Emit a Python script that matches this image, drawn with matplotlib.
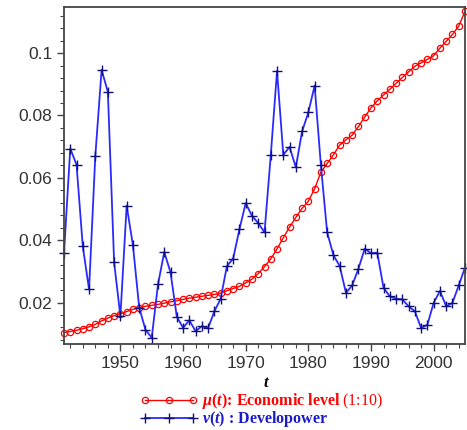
import matplotlib
matplotlib.use("Agg")
import matplotlib.pyplot as plt
from matplotlib.ticker import MultipleLocator
import numpy as np

plt.rcParams["font.family"] = ["Liberation Sans", "DejaVu Sans"]
plt.rcParams["mathtext.fontset"] = "custom"
plt.rcParams["mathtext.rm"] = "Liberation Serif"
plt.rcParams["mathtext.it"] = "Liberation Serif:italic:bold"
plt.rcParams["mathtext.bf"] = "Liberation Serif:bold"

# yearly data 1941..2005
years = np.arange(1941, 2006)

# mu(t): economic level, shown at 1:10
mu = [0.0103, 0.0107, 0.0111, 0.0116, 0.0122, 0.0130, 0.0141, 0.0150, 0.0158, 0.0164,
      0.0171, 0.0178, 0.0184, 0.0188, 0.0191, 0.0194, 0.0198, 0.0202, 0.0206, 0.0210,
      0.0214, 0.0217, 0.0220, 0.0223, 0.0226, 0.0230, 0.0238, 0.0245, 0.0252, 0.0263,
      0.0275, 0.0293, 0.0315, 0.0340, 0.0372, 0.0408, 0.0442, 0.0473, 0.0502, 0.0525,
      0.0565, 0.0618, 0.0646, 0.0674, 0.0705, 0.0722, 0.0737, 0.0765, 0.0795, 0.0825,
      0.0847, 0.0866, 0.0884, 0.0903, 0.0922, 0.0940, 0.0958, 0.0969, 0.0980, 0.0992,
      0.1016, 0.1038, 0.1060, 0.1087, 0.1134]

# nu(t): developower
nu = [0.0358, 0.0694, 0.0642, 0.0380, 0.0242, 0.0671, 0.0946, 0.0876, 0.0329, 0.0156,
      0.0511, 0.0384, 0.0184, 0.0113, 0.0087, 0.0258, 0.0362, 0.0297, 0.0155, 0.0119,
      0.0143, 0.0108, 0.0124, 0.0118, 0.0172, 0.0212, 0.0317, 0.0341, 0.0435, 0.0519,
      0.0478, 0.0455, 0.0425, 0.0672, 0.0943, 0.0674, 0.0699, 0.0634, 0.0749, 0.0810,
      0.0896, 0.0640, 0.0425, 0.0352, 0.0317, 0.0231, 0.0255, 0.0309, 0.0373, 0.0358,
      0.0360, 0.0247, 0.0220, 0.0212, 0.0210, 0.0188, 0.0172, 0.0118, 0.0129, 0.0199,
      0.0237, 0.0188, 0.0199, 0.0255, 0.0312]

fig = plt.figure(figsize=(4.67, 4.30), dpi=100)
ax = fig.add_axes([64 / 467, 1 - 344 / 430, 401 / 467, 337 / 430])

red_line, = ax.plot(years, mu, color="red", lw=1.0, marker="o", markersize=4.5,
                    mfc="none", mec="red", mew=0.9, clip_on=False,
                    label=r"$\mu\mathbf{(}t\mathbf{)}$: Economic level $\text{(1:10)}$")
blue_line, = ax.plot(years, nu, color="#2a2aff", lw=1.3, marker="+", markersize=7,
                     mec="#10107a", mew=1.0, clip_on=False,
                     label=r"$\nu\mathbf{(}t\mathbf{)}$ : Developower")

ax.set_xlim(1941, 2005)
ax.set_ylim(0.0067, 0.1148)
ax.xaxis.set_major_locator(MultipleLocator(10))
ax.xaxis.set_minor_locator(MultipleLocator(2))
ax.yaxis.set_major_locator(MultipleLocator(0.02))
ax.yaxis.set_minor_locator(MultipleLocator(0.004))
ax.set_yticks([0.02, 0.04, 0.06, 0.08, 0.1])
ax.set_yticklabels(["0.02", "0.04", "0.06", "0.08", "0.1"])
ax.set_xticks([1950, 1960, 1970, 1980, 1990, 2000])

ax.tick_params(which="major", direction="out", length=5, width=1, colors="#444444",
               labelsize=12.5, labelcolor="#333333")
ax.tick_params(which="minor", direction="out", length=3, width=0.8, colors="#444444")
for s in ax.spines.values():
    s.set_color("#444444")
    s.set_linewidth(1.3)

fig.text(0.57, 1 - 383 / 430, "t", fontfamily="Liberation Serif", fontstyle="italic",
         fontweight="bold", fontsize=12, ha="center", va="center")

leg = fig.legend(handles=[red_line, blue_line], loc="upper left",
                 bbox_to_anchor=(140 / 467, 1 - 391 / 430), frameon=False,
                 numpoints=3, handlelength=3.6, handletextpad=0.3, handleheight=0.5,
                 labelspacing=-0.1, borderpad=0, borderaxespad=0,
                 prop={"family": "Liberation Serif", "weight": "bold", "size": 11.5})
leg.get_texts()[0].set_color("red")
leg.get_texts()[1].set_color("#1a1acc")

fig.savefig("out.png", dpi=100)
